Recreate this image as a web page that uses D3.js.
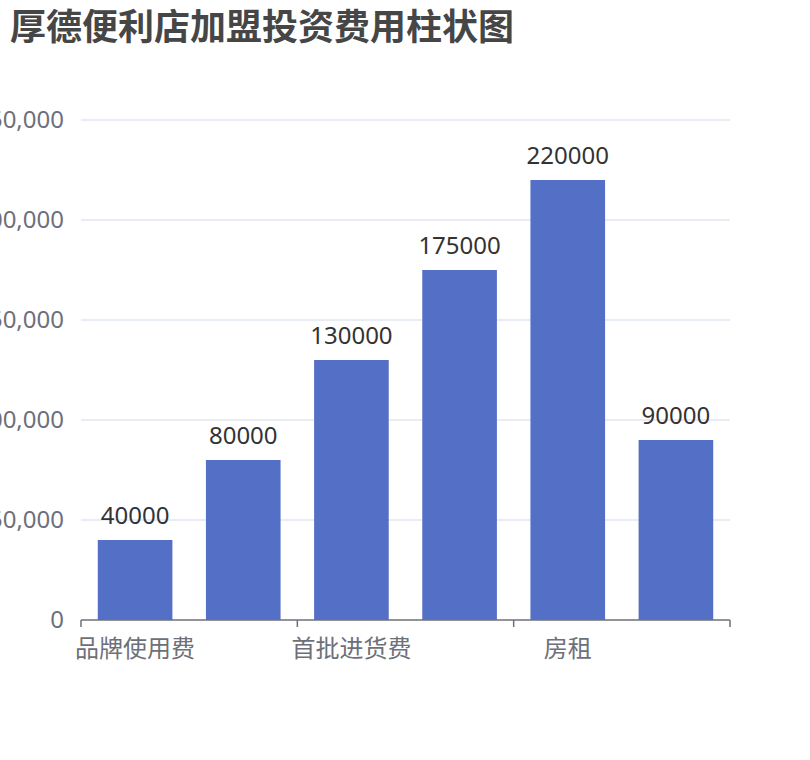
<!DOCTYPE html>
<html>
<head>
<meta charset="utf-8">
<script src="https://cdn.jsdelivr.net/npm/d3@7"></script>
<style>
  html, body { margin: 0; padding: 0; background: #fff; }
  svg { display: block; font-family: "Noto Sans", "Noto Sans CJK SC", sans-serif; }
</style>
</head>
<body>
<div id="chart"></div>
<script>
// chart data
const TITLE = "厚德便利店加盟投资费用柱状图";
const categories = ["品牌使用费", "加盟保证金", "首批进货费", "装修设备费", "房租", "人员工资"];
const values = [40000, 80000, 130000, 175000, 220000, 90000];
const yTicks = [0, 50000, 100000, 150000, 200000, 250000];
const shownLabelIdx = [0, 2, 4];

const W = 810, H = 760;
const margin = { left: 81, right: 80, top: 120, bottom: 140 };

const svg = d3.select("#chart").append("svg")
  .attr("width", W).attr("height", H);

const x = d3.scaleBand()
  .domain(categories)
  .range([margin.left, W - margin.right])
  .paddingInner(0.31)
  .paddingOuter(0.155);

const y = d3.scaleLinear()
  .domain([0, 250000])
  .range([H - margin.bottom, margin.top]);

const step = x.step();
const x0 = margin.left;
const x1 = W - margin.right;

// title
svg.append("text")
  .attr("x", 10).attr("y", 40)
  .attr("font-size", 36).attr("font-weight", "bold")
  .attr("fill", "#464646")
  .text(TITLE);

// grid lines + y labels
const grid = svg.append("g");
grid.selectAll("line").data(yTicks.filter(d => d > 0)).join("line")
  .attr("x1", x0).attr("x2", x1)
  .attr("y1", d => y(d)).attr("y2", d => y(d))
  .attr("stroke", "#e0e6f1").attr("stroke-width", 1.5);

svg.append("g").selectAll("text").data(yTicks).join("text")
  .attr("x", 64).attr("y", d => y(d) - 2)
  .attr("text-anchor", "end").attr("dominant-baseline", "central")
  .attr("font-size", 24).attr("fill", "#6e7079")
  .text(d => d3.format(",")(d));

// bars
svg.append("g").selectAll("rect").data(values).join("rect")
  .attr("x", (d, i) => x(categories[i]))
  .attr("width", x.bandwidth())
  .attr("y", d => y(d))
  .attr("height", d => y(0) - y(d))
  .attr("fill", "#5470c6");

// value labels
svg.append("g").selectAll("text").data(values).join("text")
  .attr("x", (d, i) => x(categories[i]) + x.bandwidth() / 2)
  .attr("y", d => y(d) - 16)
  .attr("text-anchor", "middle")
  .attr("font-size", 24).attr("fill", "#333")
  .text(d => d);

// x axis
const axisY = y(0);
svg.append("line")
  .attr("x1", x0).attr("x2", x1).attr("y1", axisY).attr("y2", axisY)
  .attr("stroke", "#6e7079").attr("stroke-width", 1.5);

const tickIdx = d3.range(0, categories.length + 1, 2);
svg.append("g").selectAll("line").data(tickIdx).join("line")
  .attr("x1", i => x0 + i * step).attr("x2", i => x0 + i * step)
  .attr("y1", axisY).attr("y2", axisY + 7)
  .attr("stroke", "#6e7079").attr("stroke-width", 1.5);

svg.append("g").selectAll("text").data(shownLabelIdx).join("text")
  .attr("x", i => x(categories[i]) + x.bandwidth() / 2)
  .attr("y", axisY + 27)
  .attr("dominant-baseline", "central")
  .attr("text-anchor", "middle")
  .attr("font-size", 24).attr("fill", "#6e7079")
  .text(i => categories[i]);
</script>
</body>
</html>
